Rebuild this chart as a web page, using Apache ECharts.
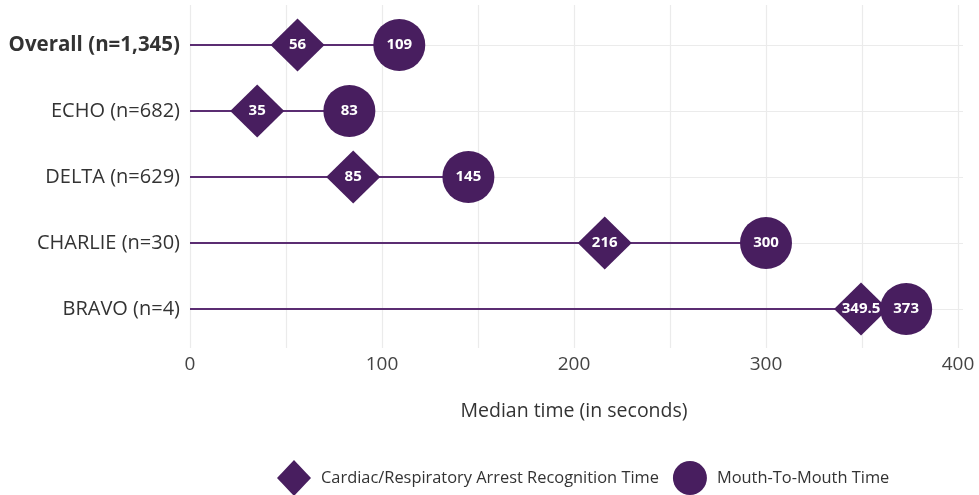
<!DOCTYPE html>
<html>
<head>
<meta charset="utf-8">
<script src="https://cdn.jsdelivr.net/npm/echarts@6/dist/echarts.min.js"></script>
<style>html,body{margin:0;padding:0;background:#fff}#c{width:979px;height:495px}</style>
</head>
<body>
<div id="c"></div>
<script>
const categories = ['Overall (n=1,345)', 'ECHO (n=682)', 'DELTA (n=629)', 'CHARLIE (n=30)', 'BRAVO (n=4)'];
const recognitionTime = [56, 35, 85, 216, 349.5];
const mouthToMouthTime = [109, 83, 145, 300, 373];
const xTicks = [0, 100, 200, 300, 400];

const PURPLE = '#481e5f';
const FONT = 'Open Sans';
const lineEnd = mouthToMouthTime.map((v, i) => Math.max(v, recognitionTime[i]));

const chart = echarts.init(document.getElementById('c'));
chart.setOption({
  animation: false,
  textStyle: { fontFamily: FONT },
  grid: [
    { left: 190, top: 5, width: 768, height: 343 },
    { left: 190, top: 12, width: 773, height: 330 }
  ],
  legend: {
    left: 277, top: 460, padding: 0,
    itemWidth: 34, itemHeight: 36, itemGap: 14,
    textStyle: { fontFamily: FONT, fontSize: 16.4, color: '#333', padding: [0, 0, 0, 5] },
    data: [
      { name: 'Cardiac/Respiratory Arrest Recognition Time', icon: 'diamond', itemStyle: { color: PURPLE } },
      { name: 'Mouth-To-Mouth Time', icon: 'circle', itemStyle: { color: PURPLE } }
    ]
  },
  xAxis: [
    {
      gridIndex: 0, type: 'value', min: 0, max: 400, interval: 50,
      name: 'Median time (in seconds)', nameLocation: 'middle', nameGap: 53,
      nameTextStyle: { fontFamily: FONT, fontSize: 19.5, color: '#333' },
      axisLine: { show: false }, axisTick: { show: false },
      axisLabel: { margin: 7, fontFamily: FONT, fontSize: 19, color: '#444',
        formatter: v => (xTicks.indexOf(v) >= 0 ? String(v) : '') },
      splitLine: { show: true, lineStyle: { color: '#ebebeb', width: 1.2 } }
    },
    {
      gridIndex: 1, type: 'value', min: 0, max: 400 * 773 / 768,
      show: false, splitLine: { show: false }
    }
  ],
  yAxis: [
    { gridIndex: 0, type: 'category', data: categories, show: false },
    {
      gridIndex: 1, type: 'category', data: categories, inverse: true,
      axisLine: { show: false }, axisTick: { show: false },
      axisLabel: {
        margin: 10, fontFamily: FONT, fontSize: 20, color: '#333',
        formatter: (v, i) => (i === 0 ? '{b|' + v + '}' : v),
        rich: { b: { fontFamily: FONT, fontSize: 20.5, fontWeight: 'bold', color: '#333' } }
      },
      splitLine: { show: true, alignWithLabel: true, lineStyle: { color: '#ebebeb', width: 1.2 } }
    }
  ],
  series: [
    {
      type: 'bar', xAxisIndex: 1, yAxisIndex: 1, data: lineEnd,
      barWidth: 2, itemStyle: { color: '#5b2d72' }, silent: true, z: 2, legendHoverLink: false
    },
    {
      name: 'Cardiac/Respiratory Arrest Recognition Time',
      type: 'scatter', xAxisIndex: 1, yAxisIndex: 1,
      symbol: 'diamond', symbolSize: [54, 53],
      data: recognitionTime.map((v, i) => [v, i]),
      itemStyle: { color: PURPLE, opacity: 1 }, z: 3,
      label: { show: true, position: 'inside', formatter: p => String(p.value[0]),
        color: '#fff', fontFamily: FONT, fontWeight: 'bold', fontSize: 15 }
    },
    {
      name: 'Mouth-To-Mouth Time',
      type: 'scatter', xAxisIndex: 1, yAxisIndex: 1,
      symbol: 'circle', symbolSize: 52,
      data: mouthToMouthTime.map((v, i) => [v, i]),
      itemStyle: { color: PURPLE, opacity: 1 }, z: 4,
      label: { show: true, position: 'inside', formatter: p => String(p.value[0]),
        color: '#fff', fontFamily: FONT, fontWeight: 'bold', fontSize: 15 }
    }
  ]
});
</script>
</body>
</html>
